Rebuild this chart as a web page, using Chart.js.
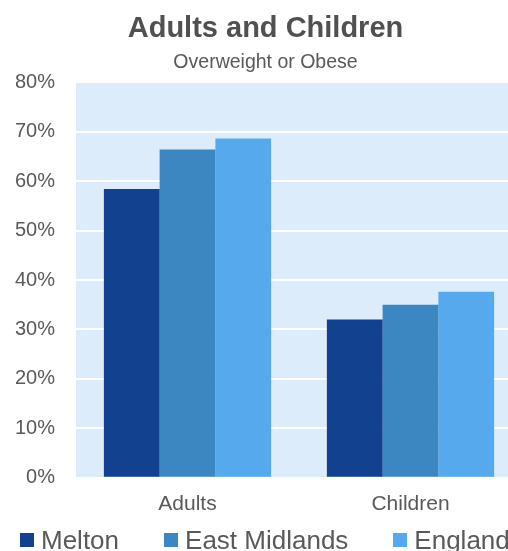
<!DOCTYPE html>
<html>
<head>
<meta charset="utf-8">
<script src="https://cdn.jsdelivr.net/npm/chart.js@4/dist/chart.umd.min.js"></script>
<style>
  html, body { margin: 0; padding: 0; background: #fff; overflow: hidden; }
  #wrap { position: relative; width: 522px; height: 551px; }
  #legend {
    position: absolute; left: 20px; top: 525px;
    display: flex; align-items: center;
    font-family: "Liberation Sans", Arial, sans-serif; font-size: 26px;
    line-height: 30px; color: #595959; white-space: nowrap;
  }
  .legend-item { display: flex; align-items: center; margin-right: 45px; }
  .legend-box { width: 14px; height: 14px; margin-right: 7px; }
</style>
</head>
<body>
<div id="wrap">
  <canvas id="chart" width="522" height="551"></canvas>
  <div id="legend"></div>
</div>
<script>
// ---- data ----
const categories = ['Adults', 'Children'];
const seriesNames = ['Melton', 'East Midlands', 'England'];
const melton = [58.4, 32.0];
const eastMidlands = [66.4, 35.0];
const england = [68.6, 37.6];
const yTicks = [0, 10, 20, 30, 40, 50, 60, 70, 80];

const colours = ['#11418f', '#3c87c2', '#55a9ec'];
const textColour = '#595959';
const fontFamily = '"Liberation Sans", Arial, sans-serif';

// plot area background
const plotBackground = {
  id: 'plotBackground',
  beforeDraw(chart) {
    const { ctx, chartArea } = chart;
    ctx.save();
    ctx.fillStyle = '#dcecfb';
    ctx.fillRect(chartArea.left, chartArea.top, chartArea.right - chartArea.left, chartArea.bottom - chartArea.top);
    ctx.restore();
  }
};

const chart = new Chart(document.getElementById('chart').getContext('2d'), {
  type: 'bar',
  data: {
    labels: categories,
    datasets: [melton, eastMidlands, england].map((values, i) => ({
      label: seriesNames[i],
      data: values,
      backgroundColor: colours[i],
      borderWidth: 0,
      categoryPercentage: 0.75,
      barPercentage: 1.0
    }))
  },
  options: {
    responsive: false,
    animation: false,
    layout: { padding: { left: 9, right: 0, top: 0, bottom: 20 } },
    scales: {
      x: {
        grid: { display: false, drawTicks: false },
        border: { display: false },
        ticks: { color: textColour, padding: 14, font: { family: fontFamily, size: 21 } }
      },
      y: {
        min: 0,
        max: 80,
        afterBuildTicks(axis) {
          axis.ticks = yTicks.map(v => ({ value: v }));
        },
        afterFit(axis) {
          axis.width = 67;
        },
        grid: { color: '#ffffff', lineWidth: 2, drawTicks: false },
        border: { display: false },
        ticks: {
          color: textColour,
          padding: 21,
          font: { family: fontFamily, size: 20 },
          callback: v => v + '%'
        }
      }
    },
    plugins: {
      legend: { display: false },
      tooltip: { enabled: false },
      title: {
        display: true,
        text: 'Adults and Children',
        color: '#505050',
        font: { family: fontFamily, size: 29, weight: 'bold' },
        padding: { top: 12, bottom: 0 }
      },
      subtitle: {
        display: true,
        text: 'Overweight or Obese',
        color: textColour,
        font: { family: fontFamily, size: 19.5 },
        padding: { top: 4, bottom: 8 }
      }
    }
  },
  plugins: [plotBackground]
});

// html legend from the chart's datasets
const legendEl = document.getElementById('legend');
chart.data.datasets.forEach(ds => {
  const item = document.createElement('div');
  item.className = 'legend-item';
  item.innerHTML = `<span class="legend-box" style="background:${ds.backgroundColor}"></span><span>${ds.label}</span>`;
  legendEl.appendChild(item);
});
</script>
</body>
</html>
